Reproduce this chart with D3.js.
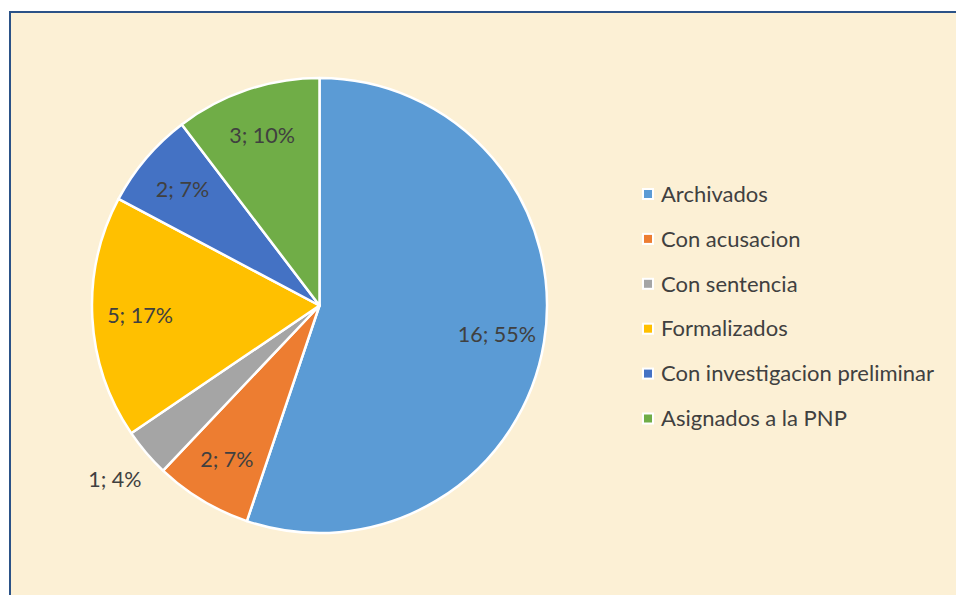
<!DOCTYPE html>
<html>
<head>
<meta charset="utf-8">
<script src="https://cdn.jsdelivr.net/npm/d3@7"></script>
<style>
  body { margin: 0; background: #fff; }
  svg { display: block; }
</style>
</head>
<body>
<script>
// values
var categories = ["Archivados", "Con acusacion", "Con sentencia", "Formalizados",
                  "Con investigacion preliminar", "Asignados a la PNP"];
var counts = [16, 2, 1, 5, 2, 3];
var pctLabels = ["55%", "7%", "4%", "17%", "7%", "10%"];
var colors = ["#5B9BD5", "#ED7D31", "#A5A5A5", "#FFC000", "#4472C4", "#70AD47"];

var width = 956, height = 595;
var cx = 319.5, cy = 305.5, radius = 227.5;

var svg = d3.select("body")
            .append("svg")
            .attr("width", width)
            .attr("height", height);

// chart area with the blue frame (runs off right and bottom)
svg.append("rect")
   .attr("x", 10)
   .attr("y", 12)
   .attr("width", width + 20)
   .attr("height", height + 20)
   .attr("fill", "#FCF0D5")
   .attr("stroke", "#2B5287")
   .attr("stroke-width", 2);

var pie = d3.pie().sort(null).value(d => d);
var arcs = pie(counts);

var arc = d3.arc().innerRadius(0).outerRadius(radius);
var labelArc = d3.arc().innerRadius(radius * 0.79).outerRadius(radius * 0.79);
var outerArc = d3.arc().innerRadius(radius * 1.18).outerRadius(radius * 1.18);

var g = svg.append("g").attr("transform", "translate(" + cx + "," + cy + ")");

g.selectAll("path")
 .data(arcs)
 .enter()
 .append("path")
 .attr("d", arc)
 .attr("fill", (d, i) => colors[i])
 .attr("stroke", "#fff")
 .attr("stroke-width", 2.5)
 .attr("stroke-linejoin", "round");

g.selectAll("text.lbl")
 .data(arcs)
 .enter()
 .append("text")
 .attr("class", "lbl")
 .attr("transform", function(d) {
   // tiny slice gets its label outside, like Excel's best fit
   let small = (d.endAngle - d.startAngle) < 0.3;
   let c = small ? outerArc.centroid(d) : labelArc.centroid(d);
   return "translate(" + c[0] + "," + c[1] + ")";
 })
 .attr("text-anchor", "middle")
 .attr("dy", "0.35em")
 .attr("font-family", "Lato, 'Open Sans', sans-serif")
 .attr("font-size", 21.5)
 .attr("fill", "#404040")
 .text((d, i) => counts[i] + "; " + pctLabels[i]);

// legend
var legend = svg.append("g").attr("transform", "translate(643,194)");
var rows = legend.selectAll("g")
                 .data(categories)
                 .enter()
                 .append("g")
                 .attr("transform", (d, i) => "translate(0," + (i * 44.9) + ")");

rows.append("rect")
    .attr("x", 0)
    .attr("y", -5)
    .attr("width", 10)
    .attr("height", 10)
    .attr("fill", (d, i) => colors[i])
    .attr("stroke", "#fff")
    .attr("stroke-width", 2);

rows.append("text")
    .attr("x", 18)
    .attr("dy", "0.35em")
    .attr("font-family", "Lato, 'Open Sans', sans-serif")
    .attr("font-size", 22)
    .attr("fill", "#404040")
    .text(d => d);
</script>
</body>
</html>
